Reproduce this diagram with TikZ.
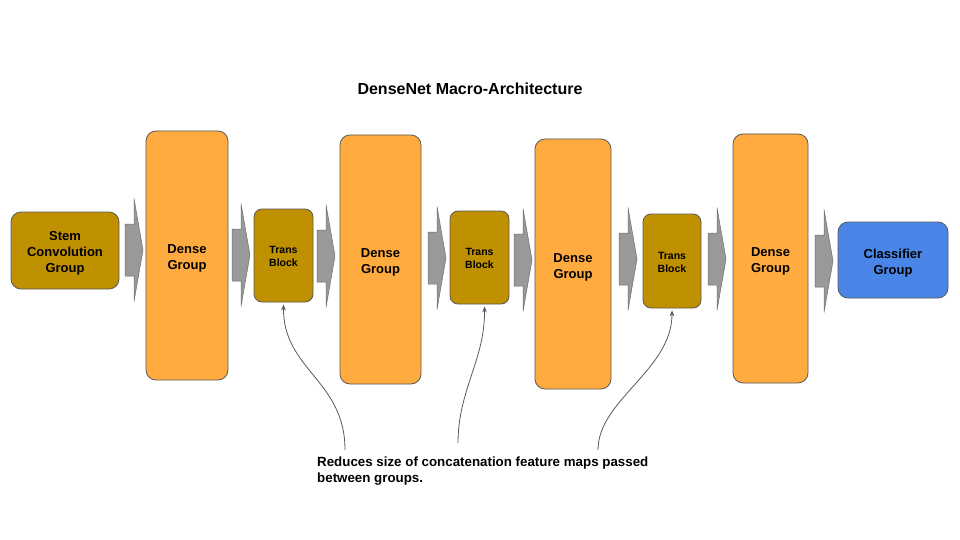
\documentclass[tikz,border=0pt]{standalone}
\usepackage{fontspec}
\setmainfont{Liberation Sans}
\usetikzlibrary{arrows.meta,calc}
\definecolor{denseC}{HTML}{FFAB40}
\definecolor{transC}{HTML}{BF9000}
\definecolor{classC}{HTML}{4A86E8}
\definecolor{edgeC}{HTML}{595959}
\definecolor{arrC}{HTML}{999999}
\definecolor{arrE}{HTML}{6E6E6E}
\newcommand{\lowr}{\rule{0pt}{15pt}}
\tikzset{
  box/.style={draw=edgeC, line width=0.8pt, rounded corners=10pt, inner sep=0pt, align=center,
              font=\bfseries\fontsize{13}{16}\selectfont},
  densebox/.style={box, fill=denseC},
  stembox/.style={box, fill=transC},
  transbox/.style={box, fill=transC, rounded corners=8pt, font=\bfseries\fontsize{10.5}{13}\selectfont},
  classbox/.style={box, fill=classC},
  note/.style={draw=edgeC, line width=0.8pt, -{Stealth[length=6pt,width=4.5pt]}},
  pics/blockarrow/.style={code={
    \draw[fill=arrC, draw=arrE, line width=0.5pt]
      (-9,-26) -- (0,-26) -- (0,-51.5) -- (9,0) -- (0,51.5) -- (0,26) -- (-9,26) -- cycle;
  }}
}
\begin{document}
\begin{tikzpicture}[x=1pt,y=-1pt]
\useasboundingbox (0,0) rectangle (960,540);
\node[font=\bfseries\fontsize{16}{19}\selectfont] (title) at (470,89) {DenseNet Macro-Architecture};

\node[stembox, minimum width=108pt, minimum height=77pt] (stem) at (65,250.5) {\lowr Stem\\Convolution\\Group};
\node[densebox, minimum width=82pt, minimum height=249pt] (d1) at (187,255.5) {\lowr Dense\\Group};
\node[transbox, minimum width=59pt, minimum height=93pt] (t1) at (283.5,255.5) {\rule{0pt}{9.5pt}Trans\\Block};
\node[densebox, minimum width=81pt, minimum height=249pt] (d2) at (380.5,259.5) {\lowr Dense\\Group};
\node[transbox, minimum width=59pt, minimum height=93pt] (t2) at (479.5,257.5) {\rule{0pt}{9.5pt}Trans\\Block};
\node[densebox, minimum width=76pt, minimum height=250pt] (d3) at (573,264) {\lowr Dense\\Group};
\node[transbox, minimum width=58pt, minimum height=94pt] (t3) at (672,261) {\rule{0pt}{9.5pt}Trans\\Block};
\node[densebox, minimum width=75pt, minimum height=249pt] (d4) at (770.5,258.5) {\lowr Dense\\Group};
\node[classbox, minimum width=110pt, minimum height=76pt] (cls) at (893,260) {\lowr Classifier\\Group};

\pic at (134,250) {blockarrow};
\pic at (241,255) {blockarrow};
\pic at (326,256) {blockarrow};
\pic at (437,258) {blockarrow};
\pic at (523,260) {blockarrow};
\pic at (628,259) {blockarrow};
\pic at (717,259) {blockarrow};
\pic at (824,261) {blockarrow};

\node[anchor=north west, inner sep=0pt, align=left, font=\bfseries\fontsize{13.33}{15.5}\selectfont] (txt) at (317,456.8)
  {Reduces size of concatenation feature maps passed\\between groups.};

\coordinate (s1) at (345,450);
\coordinate (s2) at (458,443);
\coordinate (s3) at (598,450);
\draw[note] (s1) .. controls (345,380) and (283,370) .. ($(t1.south)+(0,2)$);
\draw[note] (s2) .. controls (458,390) and (485,360) .. ($(t2.south)+(5,2)$);
\draw[note] (s3) .. controls (598,400) and (672,370) .. ($(t3.south)+(0,2)$);
\end{tikzpicture}
\end{document}
